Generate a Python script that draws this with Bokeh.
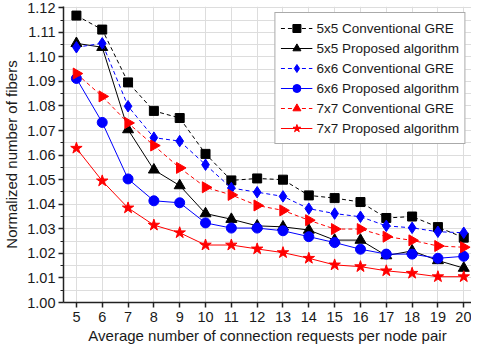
from bokeh.plotting import figure
from bokeh.models import Range1d, FixedTicker, Legend, LegendItem, CustomJSTickFormatter
from bokeh.embed import file_html
from bokeh.resources import INLINE

x = list(range(5, 21))
conv5 = [1.1168, 1.1111, 1.0896, 1.0780, 1.0751, 1.0605, 1.0497, 1.0505, 1.0500, 1.0436,
         1.0425, 1.0409, 1.0344, 1.0350, 1.0307, 1.0264]
prop5 = [1.1055, 1.1039, 1.0704, 1.0540, 1.0476, 1.0362, 1.0339, 1.0312, 1.0308, 1.0295,
         1.0254, 1.0254, 1.0191, 1.0210, 1.0171, 1.0140]
conv6 = [1.1039, 1.1055, 1.0799, 1.0671, 1.0657, 1.0561, 1.0466, 1.0449, 1.0432, 1.0382,
         1.0362, 1.0349, 1.0312, 1.0304, 1.0288, 1.0284]
prop6 = [1.0912, 1.0733, 1.0503, 1.0414, 1.0406, 1.0324, 1.0303, 1.0303, 1.0292, 1.0268,
         1.0244, 1.0217, 1.0197, 1.0197, 1.0180, 1.0188]
conv7 = [1.0932, 1.0839, 1.0731, 1.0639, 1.0548, 1.0469, 1.0438, 1.0395, 1.0375, 1.0335,
         1.0299, 1.0299, 1.0268, 1.0253, 1.0230, 1.0225]
prop7 = [1.0628, 1.0495, 1.0385, 1.0315, 1.0284, 1.0234, 1.0234, 1.0218, 1.0203, 1.0180,
         1.0153, 1.0146, 1.0129, 1.0119, 1.0105, 1.0105]

labels = ["5x5 Conventional GRE", "5x5 Proposed algorithm",
          "6x6 Conventional GRE", "6x6 Proposed algorithm",
          "7x7 Conventional GRE", "7x7 Proposed algorithm"]
y_ticks = [1.00, 1.01, 1.02, 1.03, 1.04, 1.05, 1.06, 1.07, 1.08, 1.09, 1.10, 1.11, 1.12]

p = figure(width=471, height=346, output_backend="svg", toolbar_location=None,
           x_range=Range1d(4.5, 20.3), y_range=Range1d(1.0, 1.1205),
           min_border_left=4, min_border_right=0, min_border_top=6, min_border_bottom=0)
p.outline_line_color = None

font = "Liberation Sans"
for ax in (p.xaxis[0], p.yaxis[0]):
    ax.axis_line_width = 1.5
    ax.axis_line_color = "#222222"
    ax.major_tick_line_color = "#222222"
    ax.major_tick_line_width = 1.5
    ax.major_tick_out = 5
    ax.major_tick_in = 0
    ax.major_label_text_font = font
    ax.major_label_text_font_size = "14.5px"
    ax.major_label_text_color = "#1a1a1a"
    ax.axis_label_text_font = font
    ax.axis_label_text_font_size = "15px"
    ax.axis_label_text_font_style = "normal"
    ax.axis_label_text_color = "#1a1a1a"

p.xaxis.ticker = FixedTicker(ticks=x)
p.xaxis.minor_tick_line_color = None
p.xaxis.major_label_standoff = 4
p.xaxis.axis_label = "Average number of connection requests per node pair"
p.xaxis.axis_label_standoff = 2

p.yaxis.ticker = FixedTicker(ticks=y_ticks, minor_ticks=[v + 0.005 for v in y_ticks[:-1]])
p.yaxis.minor_tick_out = 3
p.yaxis.minor_tick_in = 0
p.yaxis.minor_tick_line_color = "#222222"
p.yaxis.minor_tick_line_width = 1.2
p.yaxis.formatter = CustomJSTickFormatter(code="return tick.toFixed(2);")
p.yaxis.axis_label = "Normalized number of fibers"
p.yaxis.axis_label_standoff = 4
p.yaxis.major_label_standoff = 3

p.xgrid.grid_line_color = "#dddddd"
p.ygrid.grid_line_color = "#dddddd"
p.ygrid.minor_grid_line_color = "#dddddd"

items = []
r1 = p.line(x, conv5, line_color="black", line_dash="4 3", line_width=1)
m1 = p.scatter(x, conv5, marker="square", size=9, fill_color="black", line_color="black")
items.append(LegendItem(label=labels[0], renderers=[r1, m1]))
r2 = p.line(x, prop5, line_color="black", line_width=1)
m2 = p.scatter(x, prop5, marker="triangle", size=11, fill_color="black", line_color="black")
items.append(LegendItem(label=labels[1], renderers=[r2, m2]))
r3 = p.line(x, conv6, line_color="blue", line_dash="4 3", line_width=1)
m3 = p.scatter(x, conv6, marker="diamond", size=11.5, fill_color="blue", line_color="blue")
items.append(LegendItem(label=labels[2], renderers=[r3, m3]))
r4 = p.line(x, prop6, line_color="blue", line_width=1)
m4 = p.scatter(x, prop6, marker="circle", size=10, fill_color="blue", line_color="blue")
items.append(LegendItem(label=labels[3], renderers=[r4, m4]))
r5 = p.line(x, conv7, line_color="red", line_dash="4 3", line_width=1)
m5 = p.scatter(x, conv7, marker="triangle", angle=-1.5708, size=11, fill_color="red", line_color="red")
items.append(LegendItem(label=labels[4], renderers=[r5, m5]))
r6 = p.line(x, prop7, line_color="red", line_width=1)
m6 = p.scatter(x, prop7, marker="star", size=12, fill_color="red", line_color="red")
items.append(LegendItem(label=labels[5], renderers=[r6, m6]))

legend = Legend(items=items, location="top_right")
legend.label_text_font = font
legend.label_text_font_size = "13.5px"
legend.label_text_color = "#1a1a1a"
legend.border_line_color = "#555555"
legend.border_line_width = 1
legend.background_fill_alpha = 1
legend.spacing = -4
legend.label_height = 16
legend.glyph_height = 20
legend.glyph_width = 32
legend.padding = 5
legend.margin = 6
legend.label_standoff = 4
p.add_layout(legend)

open("out.html", "w").write(file_html(p, INLINE))
